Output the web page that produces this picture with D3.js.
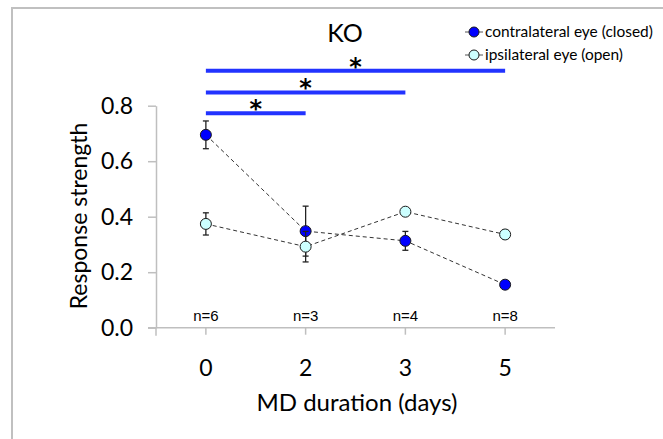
<!DOCTYPE html>
<html>
  <head>
    <meta charset="utf-8" />
    <script src="https://cdn.jsdelivr.net/npm/d3@7"></script>
    <style>
      body { margin: 0; background: #ffffff; }
      .frame { stroke: #c0c0c0; stroke-width: 2; fill: none; }
      .axis path, .axis line { stroke: #bfbfbf; stroke-width: 1.5; }
      .axis text { font-family: Lato, "Open Sans", sans-serif; font-size: 23px; fill: #000; }
      .link { stroke: #333; stroke-width: 1; stroke-dasharray: 4,3; fill: none; }
      .err { stroke: #222; stroke-width: 1.3; }
      .dot { stroke: #1a1a1a; stroke-width: 1; }
      .sig { stroke: #2233ff; stroke-width: 4; }
    </style>
  </head>
  <body>
    <div id="chart"></div>
    <script type="text/javascript">

      var w = 663, h = 439;

      var days = ["0", "2", "3", "5"];
      var nCounts = ["n=6", "n=3", "n=4", "n=8"];
      var contraMean = [0.695, 0.348, 0.313, 0.155];
      var contraErr = [0.05, 0.09, 0.034, 0.01];
      var ipsiMean = [0.374, 0.292, 0.418, 0.336];
      var ipsiErr = [0.04, 0.055, 0.006, 0.015];
      var yTicks = [0, 0.2, 0.4, 0.6, 0.8];

      // significance bars: from day, to day, height
      var sigFrom = ["0", "0", "0"];
      var sigTo = ["5", "3", "2"];
      var sigY = [0.926, 0.848, 0.773];

      var series = [
        { name: "contralateral eye (closed)", mean: contraMean, err: contraErr, fill: "#0000ff" },
        { name: "ipsilateral eye (open)", mean: ipsiMean, err: ipsiErr, fill: "#ccffff" }
      ];

      var svg = d3.select("#chart").append("svg")
        .attr("width", w).attr("height", h);

      svg.append("path").attr("class", "frame")
        .attr("d", "M12," + h + "V8H" + w);

      var x = d3.scaleBand().domain(days).range([156, 555]).padding(0);
      var y = d3.scaleLinear().domain([0, 0.8]).range([327.7, 105.7]);
      var cx = function(d) { return x(d) + x.bandwidth() / 2; };

      // x axis
      var gx = svg.append("g").attr("class", "axis")
        .attr("transform", "translate(0," + y(0) + ")")
        .call(d3.axisBottom(x).tickSize(7).tickSizeOuter(0).tickPadding(25));
      gx.select(".domain").remove();
      gx.append("line").attr("x1", 148).attr("x2", 555).attr("y1", 0).attr("y2", 0);
      gx.append("line").attr("x1", 156).attr("x2", 156).attr("y1", 0).attr("y2", 8);

      // y axis
      var gy = svg.append("g").attr("class", "axis")
        .attr("transform", "translate(156,0)")
        .call(d3.axisLeft(y).tickValues(yTicks).tickFormat(d3.format(".1f"))
          .tickSize(8).tickSizeOuter(0).tickPadding(15));

      // axis titles
      svg.append("text").attr("x", 357).attr("y", 411)
        .attr("text-anchor", "middle")
        .style("font-family", "Lato, sans-serif").style("font-size", "24px")
        .text("MD duration (days)");
      svg.append("text")
        .attr("transform", "translate(87,216) rotate(-90)")
        .attr("text-anchor", "middle")
        .style("font-family", "Lato, sans-serif").style("font-size", "23px")
        .text("Response strength");

      // title
      svg.append("text").attr("x", 345).attr("y", 42)
        .attr("text-anchor", "middle")
        .style("font-family", "Lato, sans-serif").style("font-size", "25px")
        .text("KO");

      // n labels
      svg.selectAll("text.n").data(nCounts).enter().append("text")
        .attr("class", "n")
        .attr("x", function(d, i) { return cx(days[i]); })
        .attr("y", 321)
        .attr("text-anchor", "middle")
        .style("font-family", "'Liberation Sans', Arial, sans-serif").style("font-size", "15px")
        .text(function(d) { return d; });

      // significance bars and asterisks
      sigY.forEach(function(v, i) {
        var x1 = cx(sigFrom[i]), x2 = cx(sigTo[i]);
        svg.append("line").attr("class", "sig")
          .attr("x1", x1).attr("x2", x2).attr("y1", y(v)).attr("y2", y(v));
        svg.append("text").attr("x", (x1 + x2) / 2).attr("y", y(v) + 4)
          .attr("text-anchor", "middle")
          .style("font-family", "'DejaVu Sans', sans-serif").style("font-size", "24px")
          .style("font-weight", "bold")
          .text("*");
      });

      // series
      var line = d3.line()
        .x(function(d, i) { return cx(days[i]); })
        .y(function(d) { return y(d); });

      series.forEach(function(s) {
        svg.append("path").attr("class", "link").attr("d", line(s.mean));
      });

      series.forEach(function(s) {
        var g = svg.append("g");
        s.mean.forEach(function(m, i) {
          var px = cx(days[i]);
          var top = y(m + s.err[i]), bot = y(m - s.err[i]);
          g.append("line").attr("class", "err").attr("x1", px).attr("x2", px).attr("y1", top).attr("y2", bot);
          g.append("line").attr("class", "err").attr("x1", px - 3).attr("x2", px + 3).attr("y1", top).attr("y2", top);
          g.append("line").attr("class", "err").attr("x1", px - 3).attr("x2", px + 3).attr("y1", bot).attr("y2", bot);
        });
        g.selectAll("circle").data(s.mean).enter().append("circle")
          .attr("class", "dot")
          .attr("cx", function(d, i) { return cx(days[i]); })
          .attr("cy", function(d) { return y(d); })
          .attr("r", 5.5)
          .attr("fill", s.fill);
      });

      // legend
      var leg = svg.append("g").attr("transform", "translate(465,32)");
      var legTexts = [];
      series.forEach(function(s, i) {
        var row = leg.append("g").attr("transform", "translate(0," + i * 23 + ")");
        row.append("line").attr("x1", 0).attr("x2", 18).attr("y1", 0).attr("y2", 0)
          .attr("stroke", "#555").attr("stroke-width", 1);
        row.append("circle").attr("class", "dot").attr("cx", 9).attr("cy", 0).attr("r", 5)
          .attr("fill", s.fill);
        legTexts.push(row.append("text").attr("x", 20).attr("y", 5)
          .style("font-family", "Lato, sans-serif").style("font-size", "14px")
          .text(s.name));
      });
      // fit the longest legend entry to about 168px, as in the original
      var len = legTexts[0].node().getComputedTextLength();
      var fs = Math.min(17, 14 * 168 / len);
      legTexts.forEach(function(t) { t.style("font-size", fs + "px"); });

    </script>
  </body>
</html>
